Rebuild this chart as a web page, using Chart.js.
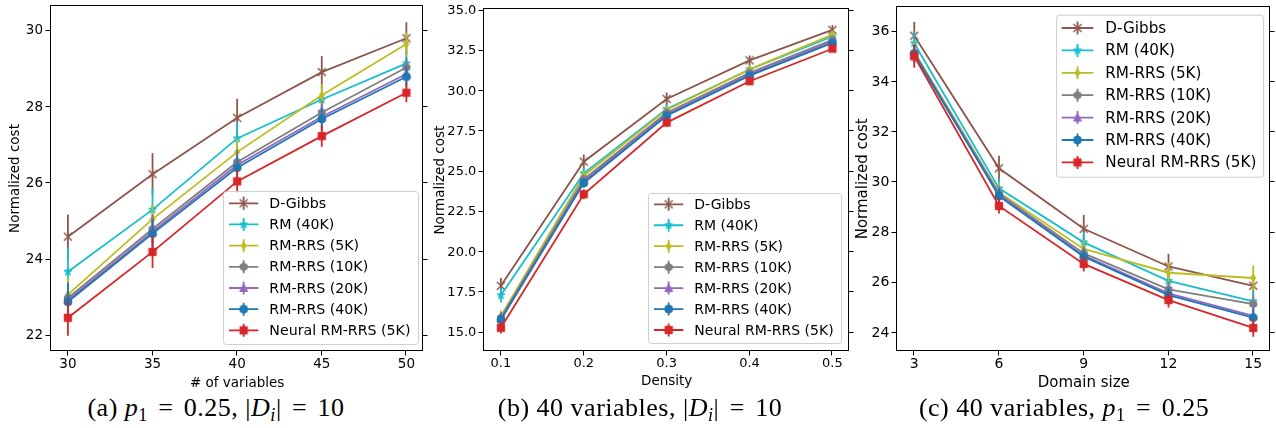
<!DOCTYPE html>
<html><head><meta charset="utf-8">
<script src="https://cdn.jsdelivr.net/npm/chart.js@4.4.0/dist/chart.umd.min.js"></script>
<style>
html,body{margin:0;padding:0;background:#fff;width:1276px;height:428px;overflow:hidden;}
.panel{position:absolute;top:0;}
.cap{position:absolute;font-family:"Liberation Serif","DejaVu Serif",serif;font-size:26px;letter-spacing:0.5px;color:#000;white-space:nowrap;transform:translate(-50%,-50%);top:408px;line-height:1;}
.cap sub{font-size:0.7em;vertical-align:-0.25em;line-height:0;}
.cap .eq{margin:0 0.4em;}
</style></head><body>
<canvas id="ca" class="panel" style="left:0px" width="430" height="392"></canvas>
<canvas id="cb" class="panel" style="left:425px" width="430" height="392"></canvas>
<canvas id="cc" class="panel" style="left:850px" width="426" height="392"></canvas>
<div class="cap" style="left:216px">(a) <i>p</i><sub>1</sub><span class="eq">=</span>0.25, |<i>D</i><sub><i>i</i></sub>|<span class="eq">=</span>10</div>
<div class="cap" style="left:640px">(b) 40 variables, |<i>D</i><sub><i>i</i></sub>|<span class="eq">=</span>10</div>
<div class="cap" style="left:1064px">(c) 40 variables, <i>p</i><sub>1</sub><span class="eq">=</span>0.25</div>
<script>
// ---------- data ----------
const seriesNames = ['D-Gibbs','RM (40K)','RM-RRS (5K)','RM-RRS (10K)','RM-RRS (20K)','RM-RRS (40K)','Neural RM-RRS (5K)'];
const seriesColors = ['#8c564b','#17becf','#bcbd22','#7f7f7f','#9467bd','#1f77b4','#d62728'];
const seriesMarkers = ['x','star','thin_diamond','hexagon','triangle','circle','square'];

// (a) number of variables
const numVariables = [30, 35, 40, 45, 50];
const aDGibbs  = [24.60, 26.24, 27.72, 28.92, 29.81];
const aRM40K   = [23.68, 25.31, 27.18, 28.20, 29.15];
const aRRS5K   = [23.08, 25.06, 26.82, 28.31, 29.66];
const aRRS10K  = [22.99, 24.80, 26.56, 27.86, 29.04];
const aRRS20K  = [22.93, 24.73, 26.48, 27.75, 28.87];
const aRRS40K  = [22.89, 24.68, 26.41, 27.69, 28.80];
const aNeural  = [22.47, 24.20, 26.05, 27.24, 28.38];
const aErrDGibbs = [0.58, 0.55, 0.50, 0.42, 0.42];
const aErrRM40K  = [0.63, 0.55, 0.42, 0.35, 0.35];
const aErrRRS5K  = [0.45, 0.40, 0.35, 0.30, 0.30];
const aErrRRS10K = [0.40, 0.38, 0.33, 0.30, 0.28];
const aErrRRS20K = [0.40, 0.38, 0.33, 0.30, 0.28];
const aErrRRS40K = [0.50, 0.38, 0.33, 0.30, 0.28];
const aErrNeural = [0.47, 0.42, 0.30, 0.28, 0.25];
const aXTicks = [30, 35, 40, 45, 50];
const aXTickLabels = ['30','35','40','45','50'];
const aYTicks = [22, 24, 26, 28, 30];
const aYTickLabels = ['22','24','26','28','30'];

// (b) density
const density = [0.1, 0.2, 0.3, 0.4, 0.5];
const bDGibbs  = [17.91, 25.62, 29.52, 31.92, 33.81];
const bRM40K   = [17.32, 24.90, 28.90, 31.35, 33.40];
const bRRS5K   = [16.03, 24.75, 28.84, 31.36, 33.52];
const bRRS10K  = [15.92, 24.52, 28.66, 31.15, 33.20];
const bRRS20K  = [15.86, 24.40, 28.56, 31.05, 33.10];
const bRRS40K  = [15.80, 24.30, 28.48, 30.97, 33.00];
const bNeural  = [15.30, 23.60, 28.05, 30.62, 32.64];
const bErrDGibbs = [0.50, 0.45, 0.40, 0.30, 0.30];
const bErrRM40K  = [0.45, 0.35, 0.30, 0.25, 0.25];
const bErrRRS5K  = [0.35, 0.30, 0.25, 0.20, 0.20];
const bErrRRS10K = [0.35, 0.30, 0.25, 0.20, 0.20];
const bErrRRS20K = [0.35, 0.30, 0.25, 0.20, 0.20];
const bErrRRS40K = [0.35, 0.30, 0.25, 0.20, 0.20];
const bErrNeural = [0.35, 0.30, 0.25, 0.20, 0.20];
const bXTicks = [0.1, 0.2, 0.3, 0.4, 0.5];
const bXTickLabels = ['0.1','0.2','0.3','0.4','0.5'];
const bYTicks = [15, 17.5, 20, 22.5, 25, 27.5, 30, 32.5, 35];
const bYTickLabels = ['15.0','17.5','20.0','22.5','25.0','27.5','30.0','32.5','35.0'];

// (c) domain size
const domainSize = [3, 6, 9, 12, 15];
const cDGibbs  = [35.84, 30.56, 28.15, 26.65, 25.88];
const cRM40K   = [35.54, 29.76, 27.61, 26.08, 25.26];
const cRRS5K   = [35.20, 29.60, 27.35, 26.40, 26.19];
const cRRS10K  = [35.15, 29.55, 27.17, 25.74, 25.15];
const cRRS20K  = [35.10, 29.50, 27.08, 25.58, 24.68];
const cRRS40K  = [35.12, 29.45, 27.04, 25.51, 24.61];
const cNeural  = [35.02, 29.06, 26.75, 25.31, 24.20];
const cErrDGibbs = [0.55, 0.50, 0.55, 0.50, 0.40];
const cErrRM40K  = [0.45, 0.40, 0.40, 0.35, 0.40];
const cErrRRS5K  = [0.40, 0.35, 0.35, 0.40, 0.50];
const cErrRRS10K = [0.35, 0.30, 0.30, 0.30, 0.35];
const cErrRRS20K = [0.35, 0.30, 0.30, 0.30, 0.35];
const cErrRRS40K = [0.35, 0.30, 0.30, 0.30, 0.35];
const cErrNeural = [0.45, 0.30, 0.30, 0.30, 0.35];
const cXTicks = [3, 6, 9, 12, 15];
const cXTickLabels = ['3','6','9','12','15'];
const cYTicks = [24, 26, 28, 30, 32, 34, 36];
const cYTickLabels = ['24','26','28','30','32','34','36'];

// ---------- markers ----------
function markerCanvas(shape, color) {
  const n = 14, r = 4;
  const c = document.createElement('canvas');
  c.width = n; c.height = n;
  const g = c.getContext('2d');
  g.translate(n / 2, n / 2);
  g.fillStyle = color; g.strokeStyle = color; g.lineWidth = 1;
  g.beginPath();
  if (shape === 'x') {
    g.lineWidth = 1.5;
    g.moveTo(-r, -r); g.lineTo(r, r); g.moveTo(-r, r); g.lineTo(r, -r);
    g.stroke();
    return c;
  }
  if (shape === 'star') {
    for (let i = 0; i < 10; i++) {
      const rr = i % 2 ? r * 0.42 : r * 1.05;
      const a = -Math.PI / 2 + i * Math.PI / 5;
      g.lineTo(rr * Math.cos(a), rr * Math.sin(a));
    }
  } else if (shape === 'thin_diamond') {
    g.moveTo(0, -r); g.lineTo(r * 0.62, 0); g.lineTo(0, r); g.lineTo(-r * 0.62, 0);
  } else if (shape === 'hexagon') {
    for (let i = 0; i < 6; i++) {
      const a = -Math.PI / 2 + i * Math.PI / 3;
      g.lineTo(r * Math.cos(a), r * Math.sin(a));
    }
  } else if (shape === 'triangle') {
    g.moveTo(0, -r); g.lineTo(r, r * 0.85); g.lineTo(-r, r * 0.85);
  } else if (shape === 'circle') {
    g.arc(0, 0, r, 0, Math.PI * 2);
  } else if (shape === 'square') {
    g.rect(-r * 0.92, -r * 0.92, r * 1.84, r * 1.84);
  }
  g.closePath(); g.fill(); g.stroke();
  return c;
}

// ---------- plugins ----------
const errorBarPlugin = {
  id: 'errorBars',
  beforeDatasetDraw(chart, args) {
    const ds = chart.data.datasets[args.index];
    if (!ds.errors) return;
    const xs = chart.scales.x, ys = chart.scales.y, ctx = chart.ctx;
    ctx.save();
    ctx.strokeStyle = ds.borderColor; ctx.lineWidth = 1.8;
    ds.data.forEach((p, j) => {
      const e = ds.errors[j];
      const px = xs.getPixelForValue(p.x);
      ctx.beginPath();
      ctx.moveTo(px, ys.getPixelForValue(p.y - e));
      ctx.lineTo(px, ys.getPixelForValue(p.y + e));
      ctx.stroke();
    });
    ctx.restore();
  }
};

const framePlugin = {
  id: 'frame',
  afterDatasetsDraw(chart) {
    const {left, right, top, bottom} = chart.chartArea;
    const ctx = chart.ctx;
    const L = Math.round(left) - 0.5, R = Math.round(right) - 0.5, T = Math.round(top) - 0.5, B = Math.round(bottom) - 0.5;
    ctx.save();
    ctx.strokeStyle = '#000'; ctx.lineWidth = 1;
    ctx.strokeRect(L, T, R - L, B - T);
    const tl = 5;
    ctx.beginPath();
    chart.scales.y.ticks.forEach(t => {
      const y = Math.round(chart.scales.y.getPixelForValue(t.value)) - 0.5;
      ctx.moveTo(L - tl, y); ctx.lineTo(L, y);
      ctx.moveTo(R, y); ctx.lineTo(R + tl, y);
    });
    chart.scales.x.ticks.forEach(t => {
      const x = Math.round(chart.scales.x.getPixelForValue(t.value)) - 0.5;
      ctx.moveTo(x, B); ctx.lineTo(x, B + tl);
    });
    ctx.stroke();
    ctx.restore();
  }
};

const boxLegendPlugin = {
  id: 'boxLegend',
  afterDraw(chart) {
    const o = chart.options.plugins.boxLegend;
    if (!o) return;
    const ctx = chart.ctx;
    ctx.save();
    ctx.beginPath();
    if (ctx.roundRect) ctx.roundRect(o.x + 0.5, o.y + 0.5, o.w, o.h, 3); else ctx.rect(o.x + 0.5, o.y + 0.5, o.w, o.h);
    ctx.fillStyle = 'rgba(255,255,255,0.8)'; ctx.fill();
    ctx.strokeStyle = '#d0d0d0'; ctx.lineWidth = 1; ctx.stroke();
    ctx.font = o.fontSize + 'px "DejaVu Sans"';
    ctx.textBaseline = 'middle'; ctx.fillStyle = '#000';
    chart.data.datasets.forEach((ds, i) => {
      const y = o.rowY + i * o.rowH;
      const cx = (o.hx1 + o.hx2) / 2;
      ctx.strokeStyle = ds.borderColor; ctx.lineWidth = 1.8;
      ctx.beginPath();
      ctx.moveTo(o.hx1, y); ctx.lineTo(o.hx2, y);
      ctx.moveTo(cx, y - 6.5); ctx.lineTo(cx, y + 6.5);
      ctx.stroke();
      const m = ds.pointStyle;
      ctx.drawImage(m, cx - m.width / 2, y - m.height / 2);
      ctx.fillStyle = '#000';
      ctx.fillText(ds.label, o.tx, y + 1);
    });
    ctx.restore();
  }
};

// ---------- builder ----------
function buildDatasets(xs, ys, errs) {
  return ys.map((arr, i) => ({
    label: seriesNames[i],
    data: xs.map((x, j) => ({x: x, y: arr[j]})),
    errors: errs[i],
    borderColor: seriesColors[i],
    backgroundColor: seriesColors[i],
    borderWidth: 1.8,
    pointStyle: markerCanvas(seriesMarkers[i], seriesColors[i]),
    pointRadius: 4, pointHoverRadius: 4,
    tension: 0, fill: false,
    order: ys.length - 1 - i
  }));
}

function makePanel(id, p) {
  const fam = 'DejaVu Sans';
  new Chart(document.getElementById(id), {
    type: 'line',
    data: {datasets: buildDatasets(p.xs, p.ys, p.errs)},
    options: {
      responsive: false, animation: false, devicePixelRatio: 1,
      layout: {padding: {left: 0, top: p.padTop, right: p.padRight, bottom: 0}},
      plugins: {legend: {display: false}, tooltip: {enabled: false}, boxLegend: p.legend},
      scales: {
        x: {
          type: 'linear', min: p.xMin, max: p.xMax,
          grid: {display: false, drawTicks: false}, border: {display: false},
          ticks: {autoSkip: false, maxRotation: 0, color: '#000', padding: p.xTickPad,
                  font: {family: fam, size: p.tickSize},
                  callback: (v, idx) => p.xTickLabels[idx]},
          title: {display: true, text: p.xTitle, color: '#000', font: {family: fam, size: p.titleSize},
                  padding: {top: 0, bottom: p.xTitlePad}},
          afterBuildTicks: s => { s.ticks = p.xTicks.map(v => ({value: v})); },
          afterFit: s => { s.height = p.xH; s.paddingLeft = 0; s.paddingRight = 0; }
        },
        y: {
          type: 'linear', min: p.yMin, max: p.yMax,
          grid: {display: false, drawTicks: false}, border: {display: false},
          ticks: {autoSkip: false, color: '#000', padding: 8,
                  font: {family: fam, size: p.tickSize},
                  callback: (v, idx) => p.yTickLabels[idx]},
          title: {display: true, text: 'Normalized cost', color: '#000', font: {family: fam, size: p.titleSize},
                  padding: {top: p.yTitlePad, bottom: 0}},
          afterBuildTicks: s => { s.ticks = p.yTicks.map(v => ({value: v})); },
          afterFit: s => { s.width = p.yW; s.paddingTop = 0; s.paddingBottom = 0; }
        }
      }
    },
    plugins: [errorBarPlugin, framePlugin, boxLegendPlugin]
  });
}

makePanel('ca', {
  xs: numVariables,
  ys: [aDGibbs, aRM40K, aRRS5K, aRRS10K, aRRS20K, aRRS40K, aNeural],
  errs: [aErrDGibbs, aErrRM40K, aErrRRS5K, aErrRRS10K, aErrRRS20K, aErrRRS40K, aErrNeural],
  xMin: 29, xMax: 51, yMin: 21.598, yMax: 30.656,
  xTicks: aXTicks, xTickLabels: aXTickLabels, yTicks: aYTicks, yTickLabels: aYTickLabels,
  xTitle: '# of variables',
  padTop: 6, padRight: 6.7, yW: 51, xH: 41,
  tickSize: 13.5, titleSize: 13.5, xTickPad: 5, xTitlePad: 0, yTitlePad: 7,
  legend: {x: 223, y: 191, w: 195, h: 153, rowY: 203.3, rowH: 21.17, hx1: 229, hx2: 258.3, tx: 269.3, fontSize: 14.2}
});

makePanel('cb', {
  xs: density,
  ys: [bDGibbs, bRM40K, bRRS5K, bRRS10K, bRRS20K, bRRS40K, bNeural],
  errs: [bErrDGibbs, bErrRM40K, bErrRRS5K, bErrRRS10K, bErrRRS20K, bErrRRS40K, bErrNeural],
  xMin: 0.08, xMax: 0.52, yMin: 13.86, yMax: 35.09,
  xTicks: bXTicks, xTickLabels: bXTickLabels, yTicks: bYTicks, yTickLabels: bYTickLabels,
  xTitle: 'Density',
  padTop: 9.3, padRight: 6, yW: 59.3, xH: 41,
  tickSize: 13, titleSize: 13.5, xTickPad: 5, xTitlePad: 2.5, yTitlePad: 7,
  legend: {x: 223, y: 193, w: 193, h: 150, rowY: 204.3, rowH: 20.95, hx1: 229, hx2: 258.3, tx: 269.3, fontSize: 14}
});

makePanel('cc', {
  xs: domainSize,
  ys: [cDGibbs, cRM40K, cRRS5K, cRRS10K, cRRS20K, cRRS40K, cNeural],
  errs: [cErrDGibbs, cErrRM40K, cErrRRS5K, cErrRRS10K, cErrRRS20K, cErrRRS40K, cErrNeural],
  xMin: 2.4, xMax: 15.6, yMin: 23.283, yMax: 36.996,
  xTicks: cXTicks, xTickLabels: cXTickLabels, yTicks: cYTicks, yTickLabels: cYTickLabels,
  xTitle: 'Domain size',
  padTop: 6.7, padRight: 5.3, yW: 47.3, xH: 41,
  tickSize: 14, titleSize: 15, xTickPad: 5, xTitlePad: 0, yTitlePad: 4,
  legend: {x: 206, y: 14.7, w: 207, h: 162, rowY: 28, rowH: 22.4, hx1: 211.7, hx2: 243.3, tx: 255.3, fontSize: 15.2}
});
</script>
</body></html>
